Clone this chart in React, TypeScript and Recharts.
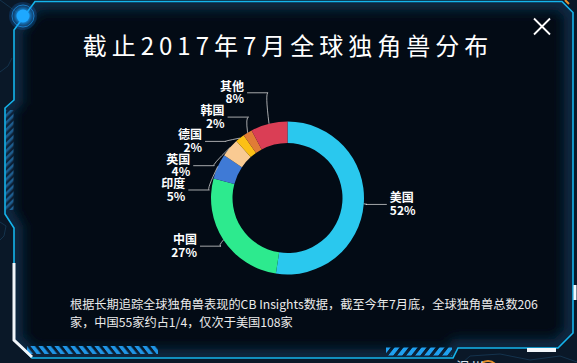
import { PieChart, Pie, Cell } from "recharts";

const countries = ["美国", "中国", "印度", "英国", "德国", "韩国", "其他"];
const unicorns = [108, 55, 11, 8, 4, 4, 16];
const colors = ["#2ac8ee", "#2dea8e", "#3f7ad6", "#f9ca92", "#fcc015", "#e07c36", "#da3e55"];

const title = "截止2017年7月全球独角兽分布";
const note1 = "根据长期追踪全球独角兽表现的CB Insights数据，截至今年7月底，全球独角兽总数206";
const note2 = "家，中国55家约占1/4，仅次于美国108家";

const W = 577;
const H = 363;
const FONT = "'Noto Sans CJK SC', 'Noto Sans', sans-serif";

// label line lengths and label box height (echarts-like outside labels)
const LEN1 = 8;
const LEN2 = 18;
const LABEL_H = 24.3;
const RAD = Math.PI / 180;

const rows = countries.map((name, i) => ({ name, value: unicorns[i] }));
const total = unicorns.reduce((a, b) => a + b, 0);

type Lab = { i: number; dir: number; x0: number; y0: number; x: number; y: number };

function adjustSide(list: Lab[], cx: number, cy: number, r: number, dir: number) {
  list.sort((a, b) => a.y - b.y);
  const n = list.length;
  const shiftUp = (end: number, delta: number) => {
    for (let j = end; j >= 0; j--) {
      list[j].y -= delta;
      if (j > 0 && list[j].y > list[j - 1].y + LABEL_H) break;
    }
  };
  const shiftDown = (start: number, end: number, delta: number) => {
    for (let j = start; j < end; j++) {
      list[j].y += delta;
      if (j > start && j + 1 < end && list[j + 1].y > list[j].y + LABEL_H) {
        shiftUp(j, delta / 2);
        return;
      }
    }
    shiftUp(end - 1, delta / 2);
  };
  let lastY = 0;
  for (let i = 0; i < n; i++) {
    const delta = list[i].y - lastY;
    if (delta < 0) shiftDown(i, n, -delta);
    lastY = list[i].y + LABEL_H;
  }
  if (H - lastY < 0) shiftUp(n - 1, lastY - H);

  const changeX = (part: Lab[], isDown: boolean) => {
    let last = isDown ? Number.MAX_VALUE : 0;
    part.forEach((l) => {
      const dy = Math.abs(l.y - cy);
      let dx =
        dy < r + LEN1
          ? Math.sqrt((r + LEN1 + LEN2) ** 2 - dy * dy)
          : Math.abs(l.x - cx);
      if (isDown && dx >= last) dx = last - 10;
      if (!isDown && dx <= last) dx = last + 10;
      l.x = cx + dx * dir;
      last = dx;
    });
  };
  changeX(list.filter((l) => l.y < cy), false);
  changeX(list.filter((l) => l.y >= cy), true);
}

function layoutLabels(cx: number, cy: number, r: number) {
  let acc = 0;
  const labs: Lab[] = unicorns.map((v, i) => {
    const mid = 90 - ((acc + v / 2) / total) * 360;
    acc += v;
    const dx = Math.cos(mid * RAD);
    const dy = -Math.sin(mid * RAD);
    const dir = dx < 0 ? -1 : 1;
    const x1 = cx + dx * (r + LEN1);
    return {
      i,
      dir,
      x0: cx + dx * r,
      y0: cy + dy * r,
      x: x1 + dir * (LEN2 + 5),
      y: cy + dy * (r + LEN1),
    };
  });
  adjustSide(labs.filter((l) => l.dir < 0), cx, cy, r, -1);
  adjustSide(labs.filter((l) => l.dir > 0), cx, cy, r, 1);
  return labs;
}

const renderLabel = (props: any) => {
  const { cx, cy, outerRadius, index, percent } = props;
  const l = layoutLabels(cx, cy, outerRadius)[index];
  const p2x = l.x - l.dir * 3;
  const p1x = p2x - l.dir * LEN2;
  const anchor = l.dir < 0 ? "end" : "start";
  return (
    <g key={`lab-${index}`}>
      <path
        d={`M${l.x0},${l.y0} Q${p1x},${l.y} ${p1x - l.dir * 3},${l.y} L${p2x},${l.y}`}
        fill="none"
        stroke="rgba(220,220,220,0.75)"
        strokeWidth={1}
      />
      <text textAnchor={anchor} fill="#fff" fontSize={12} fontWeight={600} fontFamily={FONT}>
        <tspan x={l.x} y={l.y - 2}>{countries[index]}</tspan>
        <tspan x={l.x} y={l.y + 10.6}>{Math.round(percent * 100)}%</tspan>
      </text>
    </g>
  );
};

const panel =
  "35,1.5 562,1.5 573,12.5 573,333 558,348 458,348 453,358 32,358 14,340 14,228 5,214 5,108 14,100 14,30";

function Frame() {
  return (
    <svg width={W} height={H} style={{ position: "absolute", left: 0, top: 0 }}>
      <defs>
        <clipPath id="panelClip">
          <polygon points={panel} />
        </clipPath>
        <filter id="blur6" x="-10%" y="-10%" width="120%" height="120%">
          <feGaussianBlur stdDeviation="6" />
        </filter>
        <filter id="glow" x="-100%" y="-100%" width="300%" height="300%">
          <feGaussianBlur stdDeviation="2.5" />
        </filter>
        <pattern id="hatchA" width="8" height="8" patternUnits="userSpaceOnUse" patternTransform="skewX(38)">
          <rect width="4.5" height="8" fill="#1f95e6" />
        </pattern>
        <pattern id="hatchB" width="9" height="9" patternUnits="userSpaceOnUse" patternTransform="skewX(-38)">
          <rect width="5" height="9" fill="#1fa0f0" />
        </pattern>
        <pattern id="hatchC" width="5" height="5" patternUnits="userSpaceOnUse" patternTransform="rotate(45)">
          <rect width="2.5" height="5" fill="#1d5e90" />
        </pattern>
      </defs>
      <rect width={W} height={H} fill="#0a1828" />
      <g stroke="#173a56" strokeWidth={1} fill="none" opacity={0.8}>
        <polyline points="0,0 22,16" />
        <polyline points="0,72 8,66 12,58" />
        <polyline points="0,222 6,226 4,236 0,240" />
        <polyline points="462,363 470,356 500,354 530,360 560,356 577,362" />
      </g>
      <polygon points={panel} fill="#030b15" />
      <g clipPath="url(#panelClip)">
        <polygon points={panel} fill="none" stroke="#0d2a44" strokeWidth={18} filter="url(#blur6)" />
      </g>
      <rect x={5.5} y={110} width={8} height={100} fill="url(#hatchC)" />
      <rect x={27} y={346} width={131} height={8} fill="url(#hatchA)" />
      <rect x={386} y={347.5} width={66} height={8} fill="url(#hatchB)" />
      <polygon points={panel} fill="none" stroke="#15b4ec" strokeWidth={1.6} />
      <polyline points="14,263 14,340 32,357" fill="none" stroke="#f2f6fa" strokeWidth={3} />
      <line x1={527} y1={350} x2={556} y2={350} stroke="#f2f6fa" strokeWidth={4} />
      <line x1={575} y1={285} x2={575} y2={300} stroke="#f2f6fa" strokeWidth={3} />
      <line x1={565} y1={0} x2={569} y2={4} stroke="#e8912d" strokeWidth={2} />
      <circle cx={23} cy={16} r={14} fill="rgba(25,140,255,0.18)" />
      <circle cx={23} cy={16} r={11} fill="none" stroke="rgba(40,160,255,0.6)" strokeWidth={1} />
      <circle cx={23} cy={16} r={8} fill="#1aa2ff" filter="url(#glow)" />
      <circle cx={23} cy={16} r={6.5} fill="#1ea8ff" />
      <circle cx={488} cy={371} r={10} fill="none" stroke="#e8912d" strokeWidth={2} />
      <text x={456} y={372} fill="#dfe6ee" fontSize={14} fontFamily={FONT}>温州</text>
      <text
        x={288}
        y={44}
        textAnchor="middle"
        dominantBaseline="central"
        fill="#fff"
        fontSize={24}
        letterSpacing={5}
        fontFamily={FONT}
      >
        {title}
      </text>
      <g stroke="#fff" strokeWidth={1.8}>
        <line x1={534} y1={18.5} x2={550} y2={34.5} />
        <line x1={550} y1={18.5} x2={534} y2={34.5} />
      </g>
      <text x={70} y={304} dominantBaseline="central" fill="#ececec" fontSize={12.2} fontFamily={FONT}>
        {note1}
      </text>
      <text x={70} y={322} dominantBaseline="central" fill="#ececec" fontSize={12.2} fontFamily={FONT}>
        {note2}
      </text>
    </svg>
  );
}

export default function App() {
  return (
    <div style={{ position: "absolute", left: 0, top: 0, width: W, height: H, overflow: "hidden" }}>
      <Frame />
      <div style={{ position: "absolute", left: 0, top: 0 }}>
        <PieChart width={W} height={H} margin={{ top: 0, right: 0, bottom: 0, left: 0 }}>
          <Pie
            data={rows}
            dataKey="value"
            nameKey="name"
            cx={287.5}
            cy={198}
            innerRadius={55}
            outerRadius={76.5}
            startAngle={90}
            endAngle={-270}
            stroke="none"
            label={renderLabel}
            labelLine={false}
            isAnimationActive={false}
          >
            {rows.map((r, i) => (
              <Cell key={r.name} fill={colors[i]} />
            ))}
          </Pie>
        </PieChart>
      </div>
    </div>
  );
}
